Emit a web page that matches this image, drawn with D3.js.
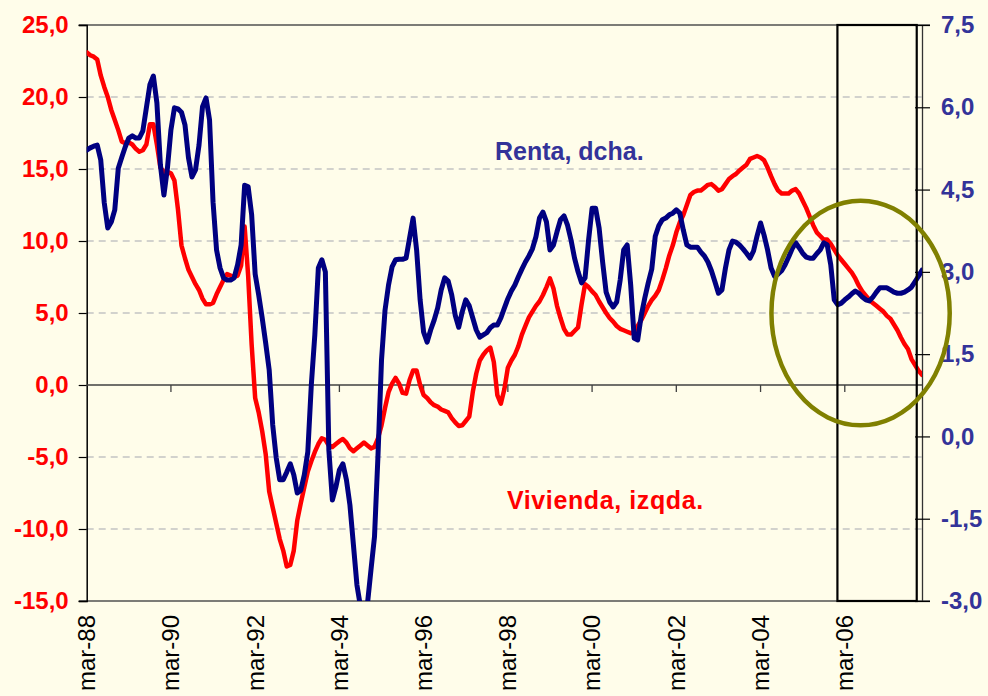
<!DOCTYPE html>
<html>
<head>
<meta charset="utf-8">
<script src="https://cdn.jsdelivr.net/npm/d3@7"></script>
<style>
  body { margin: 0; background: #fffdea; }
  svg { display: block; font-family: "Liberation Sans", Arial, sans-serif; }
</style>
</head>
<body>
<svg id="chart" width="988" height="696"></svg>
<script>
// monthly data, mar-88 .. ene-08
const monthNames = ["ene","feb","mar","abr","may","jun","jul","ago","sep","oct","nov","dic"];
const startYear = 1988, startMonth = 2, nMonths = 239;

const categories = d3.range(nMonths).map(function(i) {
    let m = startMonth + i;
    let y = startYear + Math.floor(m / 12);
    return monthNames[m % 12] + "-" + String(y % 100).padStart(2, "0");
});

// Vivienda, left axis (%)
const vivienda = [
  23.1,22.9,22.8,22.6,21.5,20.7,20.0,19.1,18.4,17.7,
  16.9,16.8,16.85,16.7,16.4,16.2,16.3,16.7,18.1,18.1,
  16.7,15.1,14.8,14.8,14.7,14.2,12.2,9.7,8.8,8.0,
  7.5,7.0,6.6,6.0,5.6,5.6,5.7,6.3,6.8,7.3,
  7.7,7.6,7.5,7.6,8.3,11.0,7.6,2.8,-0.9,-1.9,
  -3.2,-4.8,-7.4,-8.5,-9.6,-10.7,-11.5,-12.6,-12.5,-11.5,
  -9.4,-8.2,-7.1,-6.0,-5.3,-4.65,-4.1,-3.7,-3.8,-4.2,
  -4.3,-4.1,-3.9,-3.75,-4.0,-4.4,-4.6,-4.4,-4.2,-4.0,
  -4.2,-4.4,-4.3,-3.7,-2.8,-1.6,-0.5,0.1,0.5,0.1,
  -0.55,-0.6,0.35,1.0,1.0,0.0,-0.7,-0.9,-1.2,-1.4,
  -1.5,-1.7,-1.8,-1.9,-2.3,-2.6,-2.85,-2.8,-2.5,-2.2,
  -0.5,0.8,1.7,2.1,2.4,2.6,1.6,-0.7,-1.3,-0.3,
  1.2,1.7,2.1,2.7,3.5,4.1,4.7,5.1,5.5,5.8,
  6.25,6.8,7.4,6.7,5.5,4.65,3.9,3.5,3.5,3.75,
  4.0,5.6,7.0,6.8,6.5,6.25,5.8,5.4,5.0,4.65,
  4.4,4.1,3.9,3.8,3.7,3.6,3.7,4.1,4.5,5.0,
  5.5,5.9,6.2,6.6,7.3,8.1,9.0,9.7,10.6,11.3,
  11.8,12.5,13.2,13.4,13.5,13.5,13.7,13.9,13.95,13.75,
  13.5,13.6,13.95,14.3,14.5,14.65,14.9,15.1,15.3,15.7,
  15.8,15.9,15.8,15.6,15.1,14.5,13.95,13.5,13.3,13.3,
  13.3,13.5,13.6,13.3,12.8,12.3,11.7,11.1,10.6,10.35,
  10.1,10.1,9.8,9.4,9.0,8.7,8.4,8.1,7.8,7.4,
  6.9,6.5,6.2,5.9,5.7,5.5,5.3,5.1,4.8,4.6,
  4.2,3.8,3.3,2.85,2.5,1.8,1.4,1.0,0.7
];

// Renta, right axis (%)
const renta = [
  5.22,5.26,5.29,5.31,5.04,4.26,3.80,3.91,4.13,4.89,
  5.09,5.28,5.44,5.48,5.44,5.44,5.57,5.99,6.41,6.57,
  6.08,4.95,4.40,4.89,5.59,5.99,5.97,5.91,5.68,5.08,
  4.73,4.86,5.31,6.01,6.17,5.77,4.27,3.40,3.07,2.89,
  2.85,2.85,2.89,3.13,3.49,4.58,4.55,4.04,2.96,2.58,
  2.16,1.70,1.21,0.21,-0.39,-0.79,-0.79,-0.65,-0.50,-0.70,
  -1.03,-0.98,-0.70,-0.28,0.94,1.85,3.07,3.22,3.00,-0.25,
  -1.16,-0.92,-0.61,-0.50,-0.79,-1.25,-1.98,-2.71,-3.1,-3.2,
  -3.05,-2.43,-1.83,-0.34,1.39,2.30,2.76,3.09,3.22,3.23,
  3.23,3.25,3.62,3.98,3.40,2.49,1.90,1.72,1.94,2.12,
  2.34,2.67,2.89,2.83,2.58,2.21,1.99,2.27,2.49,2.38,
  2.16,1.94,1.81,1.85,1.89,1.98,2.03,2.03,2.16,2.34,
  2.51,2.65,2.76,2.91,3.05,3.18,3.29,3.42,3.64,3.98,
  4.09,3.91,3.40,3.49,3.73,3.95,4.02,3.85,3.58,3.25,
  3.00,2.80,2.89,3.58,4.16,4.16,3.80,3.18,2.63,2.45,
  2.36,2.45,2.85,3.40,3.49,2.76,1.79,1.76,2.20,2.52,
  2.80,3.05,3.65,3.84,3.95,3.98,4.04,4.07,4.13,4.07,
  3.76,3.49,3.45,3.45,3.45,3.36,3.29,3.18,3.02,2.82,
  2.61,2.67,3.07,3.40,3.56,3.54,3.49,3.42,3.34,3.25,
  3.38,3.65,3.89,3.67,3.40,3.07,2.92,2.96,3.02,3.13,
  3.27,3.42,3.53,3.44,3.34,3.27,3.25,3.25,3.33,3.40,
  3.53,3.49,3.13,2.49,2.40,2.43,2.49,2.54,2.60,2.65,
  2.61,2.54,2.49,2.47,2.54,2.63,2.71,2.71,2.71,2.67,
  2.63,2.61,2.61,2.63,2.67,2.72,2.82,2.92,3.03
];

const leftTicks = [25, 20, 15, 10, 5, 0, -5, -10, -15];
const rightTicks = [7.5, 6, 4.5, 3, 1.5, 0, -1.5, -3];
const xTickLabels = ["mar-88","mar-90","mar-92","mar-94","mar-96","mar-98","mar-00","mar-02","mar-04","mar-06"];

const plotLeft = 86.7, plotRight = 922, plotTop = 25, plotBottom = 601;
const esLocale = d3.formatLocale({decimal: ",", thousands: ".", grouping: [3], currency: ["", " €"], minus: "-"});
const fmt = esLocale.format(".1f");

const svg = d3.select("#chart");

svg.append("rect").attr("width", 988).attr("height", 696).attr("fill", "#fffdea");

const x = d3.scaleLinear().domain([0, nMonths - 1]).range([plotLeft, plotRight]);
const yL = d3.scaleLinear().domain([-15, 25]).range([plotBottom, plotTop]);
const yR = d3.scaleLinear().domain([-3, 7.5]).range([plotBottom, plotTop]);

// gridlines
svg.append("g")
    .selectAll("line")
    .data(leftTicks.filter(function(d) { return d != 25 && d != -15 && d != 0; }))
    .join("line")
      .attr("x1", plotLeft).attr("x2", plotRight)
      .attr("y1", d => yL(d)).attr("y2", d => yL(d))
      .attr("stroke", "#c4c4c4")
      .attr("stroke-width", 1.3)
      .attr("stroke-dasharray", "7,5");

// top / bottom borders
svg.append("line").attr("x1", plotLeft - 8).attr("x2", plotRight + 8).attr("y1", plotTop).attr("y2", plotTop)
    .attr("stroke", "#505050").attr("stroke-width", 1.5);
svg.append("line").attr("x1", plotLeft - 8).attr("x2", plotRight + 8).attr("y1", plotBottom).attr("y2", plotBottom)
    .attr("stroke", "#505050").attr("stroke-width", 1.5);

// left axis
const yAxisL = d3.axisLeft(yL).tickValues(leftTicks).tickSize(8).tickFormat(fmt);
const gL = svg.append("g").attr("transform", `translate(${plotLeft},0)`).call(yAxisL);
gL.select(".domain").attr("stroke", "#000").attr("stroke-width", 1.5);
gL.selectAll(".tick line").attr("stroke", "#000").attr("stroke-width", 1.2);
gL.selectAll(".tick text")
    .attr("x", -18)
    .attr("fill", "#ff0000")
    .attr("font-size", 24)
    .attr("font-weight", "bold")
    .attr("font-family", "Liberation Sans, Arial, sans-serif");

// right axis
const yAxisR = d3.axisRight(yR).tickValues(rightTicks).tickSizeInner(8).tickSizeOuter(0).tickFormat(fmt);
const gR = svg.append("g").attr("transform", `translate(${plotRight},0)`).call(yAxisR);
gR.select(".domain").attr("stroke", "#333").attr("stroke-width", 1.3);
gR.selectAll(".tick line").attr("x1", -7).attr("stroke", "#000").attr("stroke-width", 1.2);
gR.selectAll(".tick text")
    .attr("x", 19)
    .attr("fill", "#333399")
    .attr("font-size", 24)
    .attr("font-weight", "bold")
    .attr("font-family", "Liberation Sans, Arial, sans-serif");

// category axis on the zero line
const tickIdx = xTickLabels.map(function(l) { return categories.indexOf(l); });
svg.append("line").attr("x1", plotLeft).attr("x2", plotRight).attr("y1", yL(0)).attr("y2", yL(0))
    .attr("stroke", "#404040").attr("stroke-width", 1.5);
svg.append("g").selectAll("line")
    .data(tickIdx.slice(1))
    .join("line")
      .attr("x1", d => x(d)).attr("x2", d => x(d))
      .attr("y1", yL(0)).attr("y2", yL(0) + 7)
      .attr("stroke", "#404040").attr("stroke-width", 1.3);

svg.append("g").selectAll("text")
    .data(xTickLabels)
    .join("text")
      .attr("transform", (d, i) => `translate(${x(tickIdx[i])},615) rotate(-90)`)
      .attr("text-anchor", "end")
      .attr("dy", "0.35em")
      .attr("font-size", 24)
      .attr("fill", "#000")
      .text(d => d);

// series
svg.append("clipPath").attr("id", "plotClip")
  .append("rect").attr("x", plotLeft).attr("y", plotTop)
  .attr("width", plotRight - plotLeft).attr("height", plotBottom - plotTop);

const lineL = d3.line().x((d, i) => x(i)).y(d => yL(d));
const lineR = d3.line().x((d, i) => x(i)).y(d => yR(d));

svg.append("path")
    .datum(vivienda)
    .attr("clip-path", "url(#plotClip)")
    .attr("fill", "none")
    .attr("stroke", "#ff0000")
    .attr("stroke-width", 4.5)
    .attr("stroke-linejoin", "round")
    .attr("stroke-linecap", "round")
    .attr("d", lineL);

svg.append("path")
    .datum(renta)
    .attr("clip-path", "url(#plotClip)")
    .attr("fill", "none")
    .attr("stroke", "#000080")
    .attr("stroke-width", 5)
    .attr("stroke-linejoin", "round")
    .attr("stroke-linecap", "round")
    .attr("d", lineR);

// annotations: box over last months and circle
svg.append("rect")
    .attr("x", x(213.9)).attr("y", yL(25))
    .attr("width", x(236.5) - x(213.9)).attr("height", yL(-15) - yL(25))
    .attr("fill", "none").attr("stroke", "#000").attr("stroke-width", 2.2);

svg.append("ellipse")
    .attr("cx", x(220.5)).attr("cy", yL(5.0))
    .attr("rx", x(25.4) - x(0)).attr("ry", yL(0) - yL(7.8))
    .attr("fill", "none").attr("stroke", "#808000").attr("stroke-width", 4.5);

// series labels
svg.append("text").attr("x", 495).attr("y", 160)
    .attr("font-size", 25).attr("font-weight", "bold").attr("fill", "#333399")
    .text("Renta, dcha.");
svg.append("text").attr("x", 507).attr("y", 509)
    .attr("font-size", 25).attr("font-weight", "bold").attr("fill", "#ff0000")
    .attr("letter-spacing", 0.6)
    .text("Vivienda, izqda.");
</script>
</body>
</html>
